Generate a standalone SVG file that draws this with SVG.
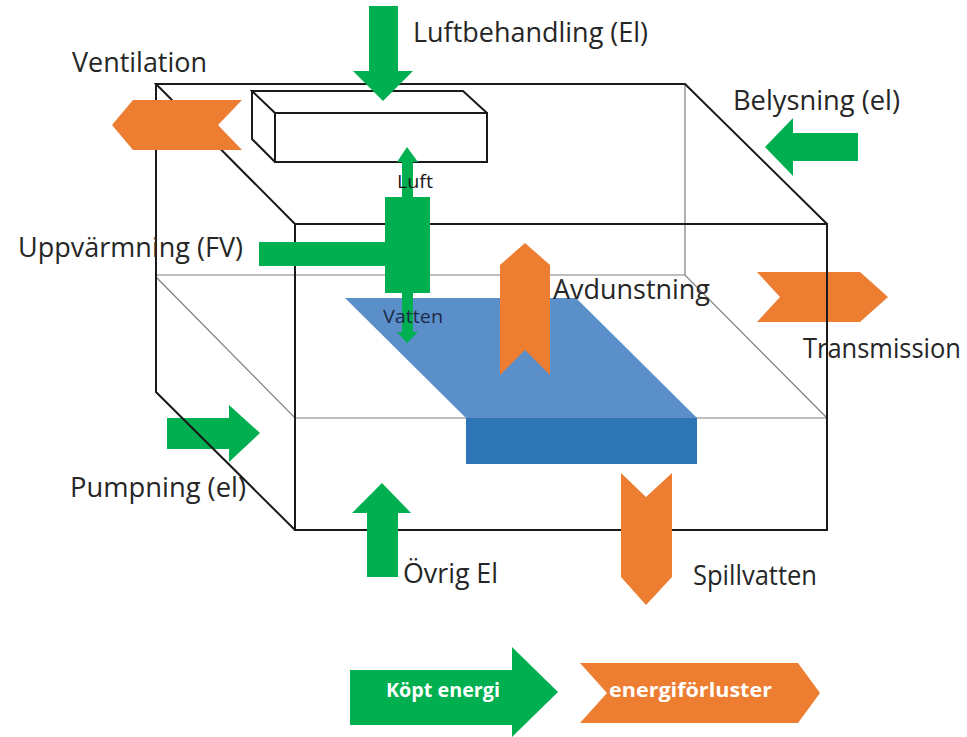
<svg xmlns="http://www.w3.org/2000/svg" width="967" height="737" viewBox="0 0 967 737">
<style>
.lbl{font-family:"Open Sans","Liberation Sans",sans-serif;font-size:26.5px;fill:#262626}
.sm{font-family:"Open Sans","Liberation Sans",sans-serif;font-size:19px}
.leg{font-family:"Open Sans","Liberation Sans",sans-serif;font-size:20px;font-weight:bold;fill:#ffffff}
.g{fill:#00b050}
.o{fill:#ed7d31}
.thick{stroke:#1a1a1a;stroke-width:2;fill:none;stroke-linecap:round}
.thin{stroke:#7f7f7f;stroke-width:1.2;fill:none}
</style>
<rect width="967" height="737" fill="#ffffff"/>

<!-- arrows drawn beneath the box lines -->
<g id="pumpning">
  <polygon class="g" points="167,418 229,418 229,405 260,433 229,462 229,449 167,449"/>
  <text class="lbl" x="70" y="497" textLength="176" lengthAdjust="spacingAndGlyphs">Pumpning (el)</text>
</g>
<g id="transmission">
  <polygon class="o" points="757,272 860,272 888,297 860,322 757,322 780,297"/>
  <text class="lbl" x="803" y="358" textLength="158" lengthAdjust="spacingAndGlyphs">Transmission</text>
</g>

<!-- box -->
<g id="box">
  <line class="thin" x1="685" y1="84" x2="685" y2="275"/>
  <polyline class="thin" points="156,275 685,275 827,418"/>
  <polyline class="thin" points="156,277 295,418 827,418"/>
  <polyline class="thick" points="295,224 156,84 685,84 827,224"/>
  <polyline class="thick" points="156,84 156,392 295,530"/>
  <rect class="thick" x="295" y="224" width="532" height="306"/>
</g>

<g id="pool">
  <polygon fill="#5b8fc9" points="345,298 576,298 697,418 466,418"/>
  <rect x="466" y="418" width="231" height="46" fill="#2e75b6"/>
</g>

<g id="duct">
  <polygon fill="#ffffff" points="252,91 463,91 487,113 487,162 275,162 252,139"/>
  <polyline class="thick" points="275,113 252,91 463,91 487,113"/>
  <polyline class="thick" points="252,91 252,139 275,162"/>
  <rect class="thick" x="275" y="113" width="212" height="49"/>
</g>

<g id="connectors">
  <g id="luftbehandling">
    <polygon class="g" points="369,6 398,6 398,71 413,71 383,101 353,71 369,71"/>
    <text class="lbl" x="413" y="42" textLength="235" lengthAdjust="spacingAndGlyphs">Luftbehandling (El)</text>
  </g>
  <g id="ventilation">
    <polygon class="o" points="112,125 133,100 242,100 218,125 242,150 133,150"/>
    <text class="lbl" x="72" y="72" textLength="135" lengthAdjust="spacingAndGlyphs">Ventilation</text>
  </g>
  <g id="belysning">
    <polygon class="g" points="765,147 793,118 793,133 858,133 858,161 793,161 793,176"/>
    <text class="lbl" x="733" y="110" textLength="167" lengthAdjust="spacingAndGlyphs">Belysning (el)</text>
  </g>
  <g id="uppvarmning">
    <polygon class="g" points="407,147 418,162 413,162 413,197 430,197 430,293 413,293 413,332 418,332 407,343 397,332 402,332 402,293 385,293 385,266 259,266 259,242 385,242 385,197 402,197 402,162 397,162"/>
    <text class="lbl" x="18" y="257" textLength="225" lengthAdjust="spacingAndGlyphs">Uppvärmning (FV)</text>
    <text class="sm" x="397" y="188" fill="#1a1a1a" textLength="36" lengthAdjust="spacingAndGlyphs">Luft</text>
    <text class="sm" x="383" y="323" fill="#1b2a48" textLength="60" lengthAdjust="spacingAndGlyphs">Vatten</text>
  </g>
  <g id="avdunstning">
    <polygon class="o" points="525,243 550,265 550,375 525,350 500,375 500,265"/>
    <text class="lbl" x="553" y="299" textLength="157" lengthAdjust="spacingAndGlyphs">Avdunstning</text>
  </g>
  <g id="ovrig-el">
    <polygon class="g" points="382,483 411,513 398,513 398,577 367,577 367,513 352,513"/>
    <text class="lbl" x="403" y="583" textLength="95" lengthAdjust="spacingAndGlyphs">Övrig El</text>
  </g>
  <g id="spillvatten">
    <polygon class="o" points="621,473 646,497 672,473 672,577 646,605 621,577"/>
    <text class="lbl" x="693" y="585" textLength="124" lengthAdjust="spacingAndGlyphs">Spillvatten</text>
  </g>
</g>

<g id="legend">
  <g id="kopt-energi">
    <polygon class="g" points="350,670 512,670 512,647 558,692 512,737 512,725 350,725"/>
    <text class="leg" x="386" y="697" textLength="114" lengthAdjust="spacingAndGlyphs">Köpt energi</text>
  </g>
  <g id="energiforluster">
    <polygon class="o" points="580,663 798,663 820,693 798,723 580,723 607,693"/>
    <text class="leg" x="609" y="697" textLength="163" lengthAdjust="spacingAndGlyphs">energiförluster</text>
  </g>
</g>
</svg>
